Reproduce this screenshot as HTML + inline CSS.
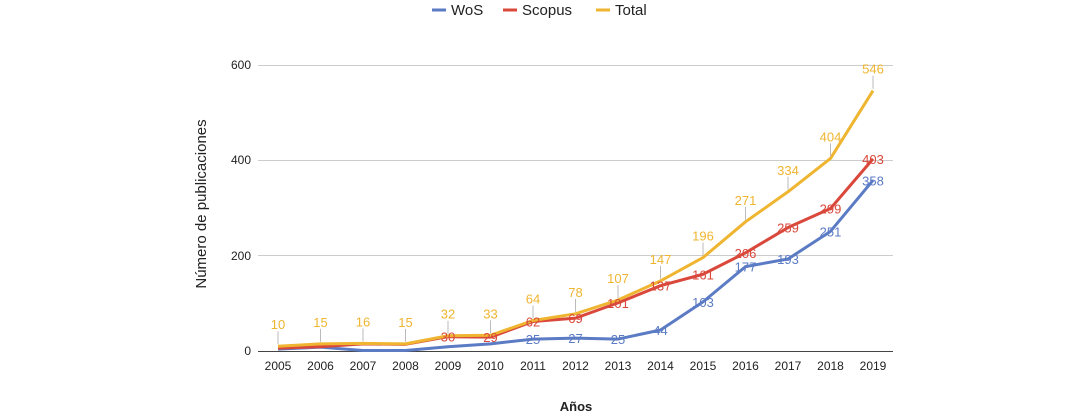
<!DOCTYPE html>
<html><head><meta charset="utf-8"><style>
html,body{margin:0;padding:0;background:#fff;}
svg{display:block;font-family:"Liberation Sans",sans-serif;}
</style></head><body>
<svg width="1086" height="416" viewBox="0 0 1086 416" xmlns="http://www.w3.org/2000/svg">
<rect width="1086" height="416" fill="#fff"/>
<!-- legend -->
<line x1="432" y1="10" x2="446" y2="10" stroke="#5b7bc4" stroke-width="3"/>
<text x="451" y="15" font-size="15" fill="#222">WoS</text>
<line x1="503" y1="10" x2="517" y2="10" stroke="#d9483b" stroke-width="3"/>
<text x="522" y="15" font-size="15" fill="#222">Scopus</text>
<line x1="596" y1="10" x2="610" y2="10" stroke="#efb530" stroke-width="3"/>
<text x="615" y="15" font-size="15" fill="#222">Total</text>
<!-- grid -->
<g stroke="#cccccc" stroke-width="1">
<line x1="258" y1="65.5" x2="893" y2="65.5"/>
<line x1="258" y1="160.5" x2="893" y2="160.5"/>
<line x1="258" y1="255.5" x2="893" y2="255.5"/>
</g>
<line x1="258" y1="351.5" x2="893" y2="351.5" stroke="#444" stroke-width="1"/>
<g font-size="12" fill="#222" text-anchor="end">
<text x="251" y="69">600</text><text x="251" y="164">400</text><text x="251" y="260">200</text><text x="251" y="355">0</text>
</g>
<g font-size="12" fill="#222" text-anchor="middle" id="xl"></g>
<text x="0" y="0" font-size="15" fill="#222" text-anchor="middle" transform="translate(206,204) rotate(-90)">Número de publicaciones</text>
<text x="576" y="411" font-size="13" font-weight="bold" fill="#222" text-anchor="middle">Años</text>
<g id="plot"></g>
</svg>
<script>
const ns="http://www.w3.org/2000/svg";
const X=i=>278+i*42.5, Y=v=>351-v*0.4767;
const wos=[4,8,1,1,9,15,25,27,25,44,103,177,193,251,358];
const sco=[6,9,15,14,30,29,62,69,101,137,161,206,259,299,403];
const tot=[10,15,16,15,32,33,64,78,107,147,196,271,334,404,546];
const xl=document.getElementById('xl'),p=document.getElementById('plot');
function el(t,a,par,txt){const e=document.createElementNS(ns,t);for(const k in a)e.setAttribute(k,a[k]);if(txt!=null)e.textContent=txt;par.appendChild(e);return e;}
for(let i=0;i<15;i++)el('text',{x:X(i),y:370},xl,2005+i);
function line(d,c){el('polyline',{points:d.map((v,i)=>X(i)+','+Y(v)).join(' '),fill:'none',stroke:c,'stroke-width':3,'stroke-linejoin':'round'},p);}
line(wos,'#5b7bc4');line(sco,'#d9483b');line(tot,'#efb530');
for(let i=0;i<15;i++){
 const y=Y(tot[i]);
 el('line',{x1:X(i),y1:y-2,x2:X(i),y2:y-15,stroke:'#bbb','stroke-width':1},p);
 el('text',{x:X(i),y:y-17,'font-size':13,fill:'#efb530','text-anchor':'middle'},p,tot[i]);
 if(i>=4)el('text',{x:X(i),y:Y(sco[i])+5,'font-size':13,fill:'#d9483b','text-anchor':'middle'},p,sco[i]);
 if(i>=6)el('text',{x:X(i),y:Y(wos[i])+5,'font-size':13,fill:'#5b7bc4','text-anchor':'middle'},p,wos[i]);
}
</script>
</body></html>
